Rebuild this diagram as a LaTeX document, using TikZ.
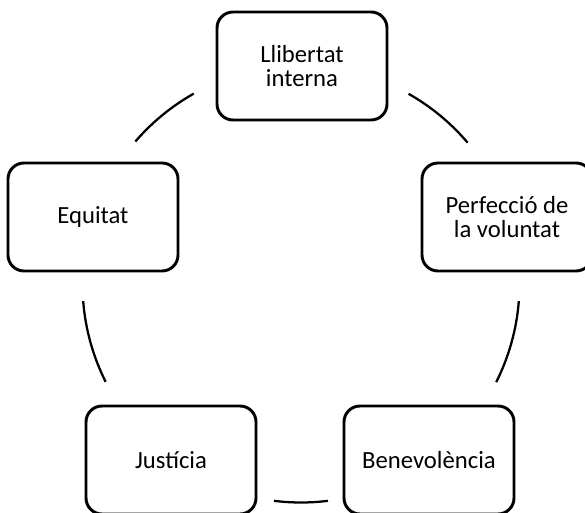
\documentclass[tikz,border=0pt]{standalone}
\usepackage{fontspec}
\setmainfont{Carlito}

\tikzset{every picture/.style={line width=0.75pt}}
\tikzset{
  virtut/.style={draw, line width=2.2pt, rounded corners=12pt, minimum width=127.5pt, minimum height=81pt, align=center, inner sep=0.75pt, font=\fontsize{18.5}{17.5}\selectfont},
  cercle/.style={line width=1.7pt}
}

\begin{document}
\begin{tikzpicture}[x=0.75pt,y=0.75pt,yscale=-1,xscale=1]
\useasboundingbox (0,0) rectangle (585,513);
%set the centre of the circle the boxes sit on
\coordinate (ctr) at (301,284);

%Shape: Rounded Rect [id:top]
\node [virtut] (llib) at (302,66) {Llibertat\\interna};
%Shape: Rounded Rect [id:right]
\node [virtut] (perf) at (507,217) {Perfecció de\\la voluntat};
%Shape: Rounded Rect [id:botright]
\node [virtut] (bene) at (429,460) {Benevolència};
%Shape: Rounded Rect [id:botleft]
\node [virtut] (just) at (171,460) {Justícia};
%Shape: Rounded Rect [id:left]
\node [virtut] (equi) at (93,217) {Equitat};

%Curve Lines between the boxes
\foreach \a/\b in {-60.5/-40.3, 4.5/26.7, 82.9/97.1, 153.4/175.5, -139.3/-119.4}
  \draw [cercle] (ctr) ++(\a:218.5) arc [start angle=\a, end angle=\b, radius=218.5];

\end{tikzpicture}
\end{document}
